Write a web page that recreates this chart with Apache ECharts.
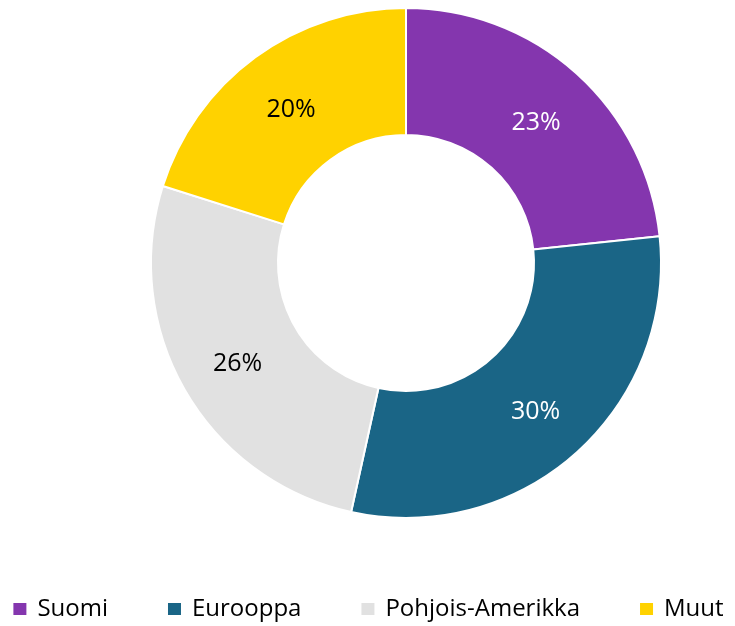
<!DOCTYPE html>
<html>
<head>
<meta charset="utf-8">
<script src="https://cdn.jsdelivr.net/npm/echarts@6/dist/echarts.min.js"></script>
<style>
  html, body { margin: 0; padding: 0; background: #fff; }
  #chart1 { width: 735px; height: 626px; }
</style>
</head>
<body>
<div id="chart1"></div>
<script>
    // alueet ja osuudet (luettu kuvasta)
    var categories = ['Suomi', 'Eurooppa', 'Pohjois-Amerikka', 'Muut'];
    var values = [23.3, 30.1, 26.4, 20.1];
    var colors = ['#8436AE', '#1A6586', '#E1E1E1', '#FFD200'];
    var labelColors = ['#ffffff', '#ffffff', '#000000', '#000000'];

    var total = 0;
    for (var k = 0; k < values.length; k++) total += values[k];

    var data = [];
    for (var i = 0; i < categories.length; i++) {
        data.push({
            name: categories[i],
            value: values[i],
            itemStyle: { color: colors[i] },
            label: { color: labelColors[i] }
        });
    }

    var chart = echarts.init(document.getElementById('chart1'));

    chart.setOption({
        animation: false,
        textStyle: { fontFamily: 'Open Sans' },
        legend: {
            bottom: 0,
            left: 'center',
            itemWidth: 15,
            itemHeight: 14,
            itemGap: 58,
            icon: 'rect',
            textStyle: { fontSize: 24, color: '#000', fontFamily: 'Open Sans', padding: [0, 0, 0, 5] },
            data: categories
        },
        series: [{
            type: 'pie',
            center: [406, 263],
            radius: [128, 255],
            startAngle: 90,
            clockwise: true,
            itemStyle: { borderColor: '#fff', borderWidth: 2 },
            label: {
                show: true,
                position: 'inside',
                // pyöristetään kukin osuus erikseen (kuten alkuperäisessä)
                formatter: function (p) {
                    return Math.round(p.value / total * 100) + '%';
                },
                offset: [0, 4],
                fontSize: 25,
                fontFamily: 'Open Sans'
            },
            labelLine: { show: false },
            emphasis: { disabled: true },
            data: data
        }]
    });
</script>
</body>
</html>
